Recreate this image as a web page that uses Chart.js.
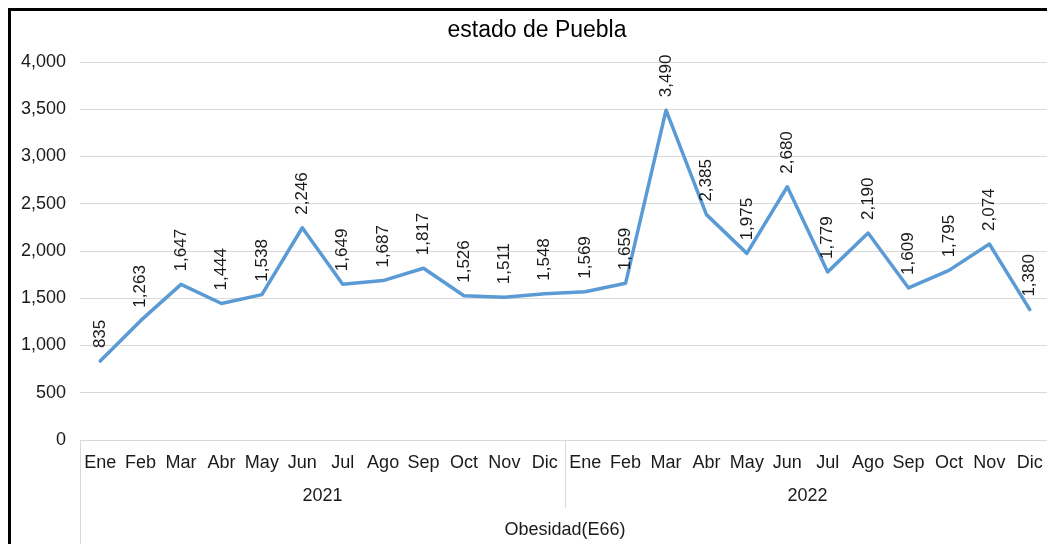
<!DOCTYPE html>
<html>
<head>
<meta charset="utf-8">
<script src="https://cdn.jsdelivr.net/npm/chart.js@4.4.1/dist/chart.umd.min.js"></script>
<style>
    html, body { margin: 0; padding: 0; background: #fff; overflow: hidden; width: 1047px; height: 544px; }
    #frame { position: absolute; left: 8px; top: 8px; width: 1100px; height: 600px; border: 3px solid #000; }
    #wrap { position: absolute; left: 11px; top: 11px; width: 1052px; height: 533px; }
</style>
</head>
<body>
<div id="frame"></div>
<div id="wrap"><canvas id="pueblaChart" width="1052" height="533"></canvas></div>
<script>
// Obesidad (E66), estado de Puebla, monthly cases
const months = ['Ene', 'Feb', 'Mar', 'Abr', 'May', 'Jun', 'Jul', 'Ago', 'Sep', 'Oct', 'Nov', 'Dic'];
const years = ['2021', '2022'];
const cases2021 = [835, 1263, 1647, 1444, 1538, 2246, 1649, 1687, 1817, 1526, 1511, 1548];
const cases2022 = [1569, 1659, 3490, 2385, 1975, 2680, 1779, 2190, 1609, 1795, 2074, 1380];
const yTicks = [0, 500, 1000, 1500, 2000, 2500, 3000, 3500, 4000];
const chartTitle = 'estado de Puebla';

const labels = [...months, ...months];
const values = [...cases2021, ...cases2022];

const FONT = "'Liberation Sans', Arial, sans-serif";
const TEXT = '#1a1a1a';
const GRID = '#d9d9d9';

function fmt(v) {
    return Number(v).toLocaleString('en-US');
}

// title centred on the whole chart box (the plot itself is off-centre)
const boxTitle = {
    id: 'boxTitle',
    afterDraw(chart) {
        const ctx = chart.ctx;
        ctx.save();
        ctx.font = '23px ' + FONT;
        ctx.fillStyle = '#000';
        ctx.textAlign = 'center';
        ctx.textBaseline = 'middle';
        ctx.fillText(chartTitle, chart.width / 2, 20);
        ctx.restore();
    }
};

// rotated value labels above each point
const valueLabels = {
    id: 'valueLabels',
    afterDatasetsDraw(chart) {
        const ctx = chart.ctx;
        const meta = chart.getDatasetMeta(0);
        ctx.save();
        ctx.font = '17px ' + FONT;
        ctx.fillStyle = TEXT;
        ctx.textAlign = 'left';
        ctx.textBaseline = 'middle';
        meta.data.forEach((pt, i) => {
            ctx.save();
            ctx.translate(pt.x, pt.y - 13);
            ctx.rotate(-Math.PI / 2);
            ctx.fillText(fmt(values[i]), 0, 0);
            ctx.restore();
        });
        ctx.restore();
    }
};

// separators of the multi-level category axis
const axisBox = {
    id: 'axisBox',
    afterDraw(chart) {
        const ctx = chart.ctx;
        const x = chart.scales.x;
        const x2 = chart.scales.x2;
        const top = chart.chartArea.bottom;
        const mid = (x.getPixelForValue(11) + x.getPixelForValue(12)) / 2;
        ctx.save();
        ctx.strokeStyle = GRID;
        ctx.lineWidth = 1;
        ctx.beginPath();
        ctx.moveTo(Math.round(x.left) + 0.5, top);
        ctx.lineTo(Math.round(x.left) + 0.5, chart.height);
        ctx.moveTo(Math.round(x.right) + 0.5, top);
        ctx.lineTo(Math.round(x.right) + 0.5, chart.height);
        ctx.moveTo(Math.round(mid) + 0.5, top);
        ctx.lineTo(Math.round(mid) + 0.5, x2.top + 35);
        ctx.stroke();
        ctx.restore();
    }
};

new Chart(document.getElementById('pueblaChart').getContext('2d'), {
    type: 'line',
    data: {
        labels: labels,
        datasets: [{
            label: 'Obesidad(E66)',
            data: values,
            borderColor: '#5B9BD5',
            borderWidth: 3.5,
            borderJoinStyle: 'round',
            borderCapStyle: 'round',
            pointRadius: 0,
            tension: 0,
            fill: false
        }]
    },
    options: {
        responsive: false,
        animation: false,
        layout: { padding: { left: 0, right: 13, top: 51, bottom: 0 } },
        plugins: {
            legend: { display: false },
            tooltip: { enabled: false },
            title: { display: false }
        },
        scales: {
            y: {
                min: 0,
                max: 4000,
                afterBuildTicks: s => { s.ticks = yTicks.map(v => ({ value: v })); },
                afterFit: s => { s.width = 69; },
                border: { display: false },
                grid: { color: GRID, lineWidth: 1, drawTicks: false },
                ticks: {
                    color: TEXT,
                    padding: 14,
                    font: { family: FONT, size: 18 },
                    callback: v => fmt(v)
                }
            },
            x: {
                type: 'category',
                offset: true,
                afterFit: s => { s.height = 33; },
                border: { display: true, color: GRID, width: 1 },
                grid: { display: false, drawTicks: false },
                ticks: {
                    color: TEXT,
                    padding: 12,
                    autoSkip: false,
                    maxRotation: 0,
                    font: { family: FONT, size: 18 }
                }
            },
            x2: {
                type: 'category',
                position: 'bottom',
                labels: years,
                offset: true,
                weight: 1,
                afterFit: s => { s.height = 71; },
                border: { display: false },
                grid: { display: false, drawTicks: false },
                ticks: {
                    color: TEXT,
                    padding: 12,
                    maxRotation: 0,
                    font: { family: FONT, size: 18 }
                },
                title: {
                    display: true,
                    text: 'Obesidad(E66)',
                    color: TEXT,
                    font: { family: FONT, size: 18 },
                    padding: { top: 12, bottom: 3 }
                }
            }
        }
    },
    plugins: [boxTitle, valueLabels, axisBox]
});
</script>
</body>
</html>
